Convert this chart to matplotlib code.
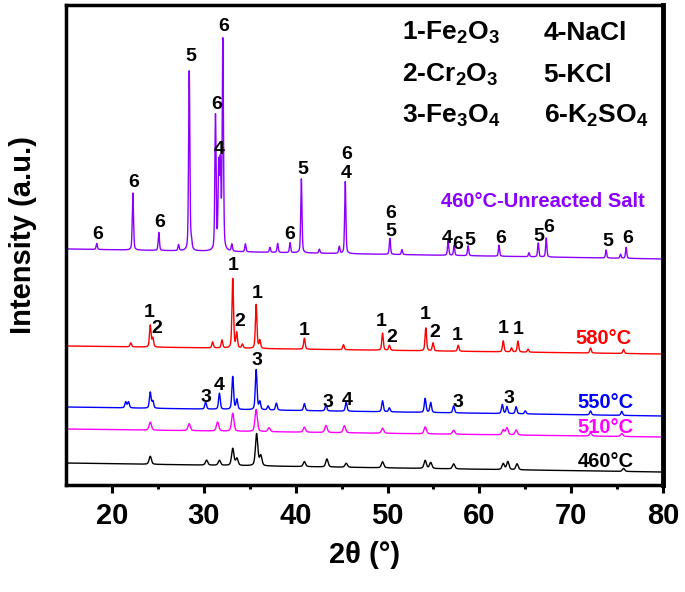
import matplotlib
matplotlib.use('Agg')
import matplotlib.pyplot as plt
import numpy as np

plt.rcParams['font.family'] = ['Liberation Sans', 'DejaVu Sans']
plt.rcParams['font.weight'] = 'bold'
plt.rcParams['mathtext.fontset'] = 'custom'
plt.rcParams['mathtext.rm'] = 'Liberation Sans:bold'
plt.rcParams['mathtext.it'] = 'Liberation Sans:bold'

# scan range (2theta, deg)
two_theta = np.linspace(15, 80, 3251)

# 460C - unreacted salt (purple)
salt_pos = [18.34, 22.28, 25.1, 27.25, 28.41, 28.65, 31.27, 31.62, 31.8, 32.07, 33.05, 34.53,
            37.2, 38.04, 39.39, 40.62, 42.58, 44.75, 45.4, 50.26, 51.57, 56.6, 57.25,
            58.77, 62.14, 65.4, 66.41, 67.28, 73.8, 75.37, 75.98]
salt_h = [6, 57, 18, 6, 182, 8, 136, 82, 82, 212, 7, 8,
          5, 9, 10, 74, 4, 7, 72, 16, 5, 15, 10,
          10, 11, 4, 14, 19, 8, 4, 11]
salt_base = [236, 226]

# 580C (red)
r580_pos = [22.05, 24.17, 24.45, 30.96, 31.98, 33.15, 33.58, 34.2, 35.7, 36.1, 40.95, 45.2,
            49.46, 50.2, 54.17, 54.95, 57.7, 62.6, 63.5, 64.2, 65.3, 72.1, 75.7]
r580_h = [4, 22, 9, 6, 8, 70, 15, 4, 44, 8, 11, 5,
          17, 5, 23, 8, 6, 11, 4, 11, 3, 5, 4]
r580_base = [139, 131]

# 550C (blue)
r550_pos = [21.5, 21.8, 24.17, 24.45, 30.2, 31.7, 33.15, 33.6, 35.7, 36.1, 37.0, 37.9, 40.95,
            43.3, 45.5, 49.46, 50.2, 54.1, 54.7, 57.2, 62.5, 63.0, 64.0, 65.0, 72.1, 75.5]
r550_h = [6, 6, 16, 7, 7, 16, 33, 10, 40, 8, 4, 7, 7,
          6, 9, 11, 4, 14, 10, 7, 9, 7, 7, 3, 4, 4]
r550_base = [78, 69]

# 510C (magenta)
r510_pos = [24.17, 28.4, 31.5, 33.15, 35.7, 37.1, 40.95, 43.3, 45.3, 49.46, 54.1, 57.2,
            62.6, 63.0, 64.0, 72.1, 75.5]
r510_h = [8, 7, 9, 18, 22, 4, 5, 7, 7, 5, 7, 4, 5, 7, 5, 3, 3]
r510_base = [56, 48]

# 460C (black)
r460_pos = [24.17, 30.3, 31.7, 33.15, 33.6, 35.75, 36.2, 40.95, 43.4, 45.5, 49.46, 54.1,
            54.7, 57.2, 62.6, 63.1, 64.1, 75.7]
r460_h = [8, 5, 5, 17, 7, 32, 10, 5, 8, 4, 6, 8, 6, 5, 6, 8, 6, 3]
r460_base = [22, 13]

series = [
    (salt_pos, salt_h, salt_base, 0.16, '#8B00FF'),
    (r580_pos, r580_h, r580_base, 0.2, '#FF0000'),
    (r550_pos, r550_h, r550_base, 0.22, '#0000FF'),
    (r510_pos, r510_h, r510_base, 0.3, '#FF00FF'),
    (r460_pos, r460_h, r460_base, 0.3, '#000000'),
]

# series names
names = ['460°C-Unreacted Salt', '580°C', '550°C', '510°C', '460°C']
name_x = [78.0, 76.6, 76.8, 76.8, 76.8]
name_y = [283, 146, 83, 58, 24]

# phase labels on the peaks: (2theta, y, text)
salt_labels = [(18.5, 250, '6'), (22.36, 302, '6'), (25.2, 262, '6'), (28.55, 428, '5'),
               (31.35, 380, '6'), (31.7, 335, '4'), (32.15, 458, '6'), (39.4, 250, '6'),
               (40.8, 315, '5'), (45.55, 330, '6'), (45.55, 311, '4'), (50.37, 271, '6'),
               (50.37, 253, '5'), (56.5, 246, '4'), (57.6, 240, '6'), (59.0, 244, '5'),
               (62.3, 246, '6'), (66.5, 248, '5'), (67.5, 257, '6'), (74.0, 243, '5'),
               (76.2, 246, '6')]
r580_labels = [(24.1, 172, '1'), (24.9, 156, '2'), (33.15, 219, '1'), (33.9, 163, '2'),
               (35.8, 191, '1'), (40.9, 154, '1'), (49.35, 163, '1'), (50.5, 147, '2'),
               (54.1, 170, '1'), (55.1, 152, '2'), (57.6, 149, '1'), (62.6, 156, '1'),
               (64.2, 155, '1')]
r550_labels = [(30.26, 88, '3'), (31.7, 100, '4'), (35.8, 124, '3'), (43.5, 83, '3'),
               (45.65, 85, '4'), (57.7, 83, '3'), (63.2, 87, '3')]

legend_left = [r'1-Fe$_2$O$_3$', r'2-Cr$_2$O$_3$', r'3-Fe$_3$O$_4$']
legend_right = ['4-NaCl', '5-KCl', r'6-K$_2$SO$_4$']
legend_y = [445, 403, 362]


def pattern(pos, h, base, fwhm):
    y = np.linspace(base[0], base[1], two_theta.size)
    for p, a in zip(pos, h):
        d = (two_theta - p) / (fwhm / 2)
        y = y + a * (0.6 * np.exp(-np.log(2) * d ** 2) + 0.4 / (1 + d ** 2))
    return y


fig = plt.figure(figsize=(6.85, 5.92), dpi=100)
ax = fig.add_axes([0.0964, 0.1807, 0.8716, 0.811])

for pos, h, base, w, col in series:
    ax.plot(two_theta, pattern(pos, h, base, w), color=col, lw=1.0)

for (pos, h, base, w, col), name, nx, ny in zip(series, names, name_x, name_y):
    ax.text(nx, ny, name, color=col, fontsize=14.5, fontweight='bold', ha='right', va='center')

for lx, ly, t in salt_labels + r580_labels + r550_labels:
    ax.text(lx, ly, t, fontsize=14, fontweight='bold', ha='center', va='center')

for t, ly in zip(legend_left, legend_y):
    ax.text(51.6, ly, t, fontsize=19, fontweight='bold', ha='left', va='baseline')
for t, ly in zip(legend_right, legend_y):
    ax.text(67.0, ly, t, fontsize=19, fontweight='bold', ha='left', va='baseline')

ax.set_xlim(15, 80)
ax.set_ylim(0, 480)
ax.set_xticks([20, 30, 40, 50, 60, 70, 80])
ax.set_xticks([25, 35, 45, 55, 65, 75], minor=True)
ax.set_yticks([])
ax.tick_params(axis='x', which='major', direction='out', length=6, width=2.2,
               labelsize=21, pad=6)
ax.tick_params(axis='x', which='minor', direction='out', length=3, width=2.2)
for lab in ax.get_xticklabels():
    lab.set_fontweight('bold')
for s in ax.spines.values():
    s.set_linewidth(2.5)
ax.spines['right'].set_linewidth(3.5)

ax.set_xlabel('2θ (°)', fontsize=21, fontweight='bold', labelpad=8)
ax.set_ylabel('Intensity (a.u.)', fontsize=21, fontweight='bold')
ax.yaxis.set_label_coords(-0.048, 0.52)

fig.savefig('out.png', dpi=100)
